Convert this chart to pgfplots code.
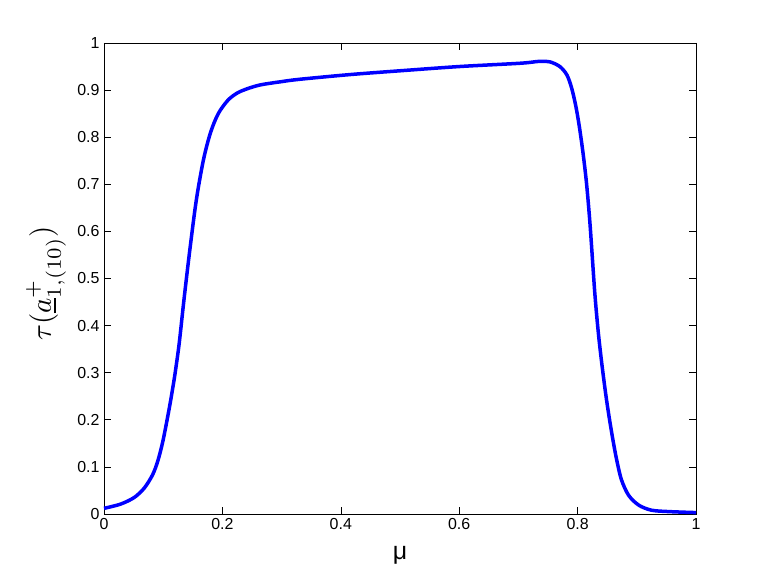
\documentclass[border=0pt]{standalone}
\usepackage[no-math]{fontspec}
\setmainfont{Liberation Sans}
\usepackage{pgfplots}
\pgfplotsset{compat=1.18}

\begin{document}
\begin{tikzpicture}
\begin{axis}[
    scale only axis,
    width=592bp, height=471bp,
    xmin=0, xmax=1, ymin=0, ymax=1,
    xtick={0,0.2,...,1}, ytick={0,0.1,...,1},
    xticklabels={0,0.2,0.4,0.6,0.8,1},
    yticklabels={0,0.1,0.2,0.3,0.4,0.5,0.6,0.7,0.8,0.9,1},
    tick align=inside, major tick length=7bp,
    tick style={black, line width=0.6bp},
    axis line style={black, line width=0.8bp},
    ticklabel style={font=\fontsize{16}{18}\selectfont},
    /pgf/number format/assume math mode=true,
    xticklabel style={yshift=-1bp},
    yticklabel style={xshift=-1bp},
    xlabel={\fontsize{25}{28}\selectfont μ},
    xlabel style={at={(axis description cs:0.5,-0.087)}, anchor=center},
    ylabel={$\tau(\underline{a}^{+}_{1,(10)})$},
    ylabel style={at={(axis description cs:-0.098,0.49)}, anchor=center, scale=2.9},
    clip=false,
]
\addplot[blue, line width=3.5bp, smooth, tension=0.5] coordinates {
(0,0.012) (0.028,0.021) (0.051,0.035) (0.068,0.055) (0.082,0.083)
(0.091,0.113) (0.099,0.152) (0.106,0.196) (0.113,0.244) (0.120,0.298)
(0.127,0.362) (0.135,0.454) (0.145,0.561) (0.156,0.667) (0.168,0.752)
(0.180,0.810) (0.193,0.850) (0.209,0.878) (0.224,0.893) (0.24,0.902)
(0.264,0.911) (0.3,0.918) (0.331,0.923) (0.416,0.933) (0.5,0.941)
(0.6,0.950) (0.703,0.957) (0.735,0.961) (0.753,0.960) (0.770,0.950)
(0.782,0.932) (0.790,0.904) (0.797,0.866) (0.803,0.822) (0.809,0.768)
(0.815,0.703) (0.821,0.615) (0.829,0.470) (0.835,0.385) (0.841,0.318)
(0.848,0.250) (0.854,0.200) (0.860,0.155) (0.866,0.115) (0.874,0.073)
(0.886,0.040) (0.903,0.019) (0.925,0.008) (0.956,0.005) (1,0.003)
};
\end{axis}
\path (current axis.south west) ++(-104bp,-64bp) coordinate (bbl);
\path (current axis.north east) ++(72bp,43bp) coordinate (bbr);
\path (bbl) rectangle (bbr);
\end{tikzpicture}
\end{document}
